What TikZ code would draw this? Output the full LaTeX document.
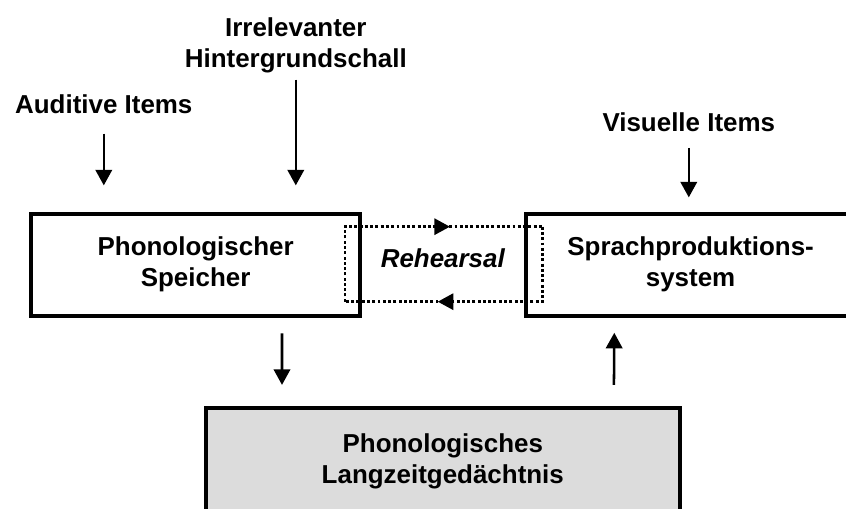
\documentclass[tikz,border=0pt]{standalone}
\usepackage{fontspec}
\setmainfont{Liberation Sans}
\usepackage{xcolor}
\usepackage{tikz}
\usetikzlibrary{positioning, arrows.meta, decorations.markings}
\definecolor{ltmgray}{RGB}{220,220,220}

\begin{document}
\begin{tikzpicture}[
        font=\fontsize{12.3}{14.7}\selectfont\bfseries,
        box/.style={draw,line width=1.9pt,minimum width=5.49cm,minimum height=1.70cm,align=center,fill=white},
        lbl/.style={align=center},
        arr/.style={line width=1.2pt,-{Triangle[length=7.4pt,width=7.8pt]}},
        loopline/.style={line width=1.4pt,dash pattern=on 1.4pt off 1.1pt,
            postaction={decorate},
            decoration={markings,mark=at position 0.66 with {\arrow{Triangle[length=7.4pt,width=7.6pt]}}}}
    ]
            \useasboundingbox (0,0) rectangle (14.1,8.4833);
            \clip (0,0) rectangle (14.1,8.4833);

            \node[box] (speicher) at (3.26,4.07) {Phonologischer\\Speicher};
            \node[box] (sprach) at (11.51,4.07) {Sprachproduktions-\\system};
            \node[box,fill=ltmgray,minimum width=7.9cm,minimum height=1.77cm] (ltm) at (7.38,0.8) {Phonologisches\\Langzeitged\"achtnis};

            \node[lbl] (auditiv) at (1.73,6.74) {Auditive Items};
            \node[lbl] (irrelevant) at (4.93,7.72) {Irrelevanter\\Hintergrundschall};
            \node[lbl] (visuell) at (11.48,6.45) {Visuelle Items};
            \node[lbl,font=\fontsize{12.3}{14.7}\selectfont\bfseries\itshape] (rehearsal) at (7.38,4.18) {Rehearsal};

            % rehearsal loop between the two boxes
            \coordinate (loopne) at (9.045,4.705);
            \coordinate (loopsw) at (5.75,3.455);
            \draw[loopline] (loopsw) |- (loopne);
            \draw[loopline] (loopne) |- (loopsw);

            % inputs
            \draw[arr,shorten <=0.2cm,shorten >=0.44cm] (auditiv) -- (auditiv |- speicher.north);
            \draw[arr,shorten <=-0.02cm,shorten >=0.44cm] (irrelevant) -- (irrelevant |- speicher.north);
            \draw[arr,shorten <=0.15cm,shorten >=0.24cm] (visuell) -- (visuell |- sprach.north);

            % long-term store
            \draw[arr,shorten <=0.26cm,shorten >=0.35cm] ([xshift=1.44cm]speicher.south) -- ([xshift=-2.68cm]ltm.north);
            \draw[arr,shorten <=0.35cm,shorten >=0.25cm] ([xshift=2.85cm]ltm.north) -- ([xshift=-1.27cm]sprach.south);
        \end{tikzpicture}
\end{document}
